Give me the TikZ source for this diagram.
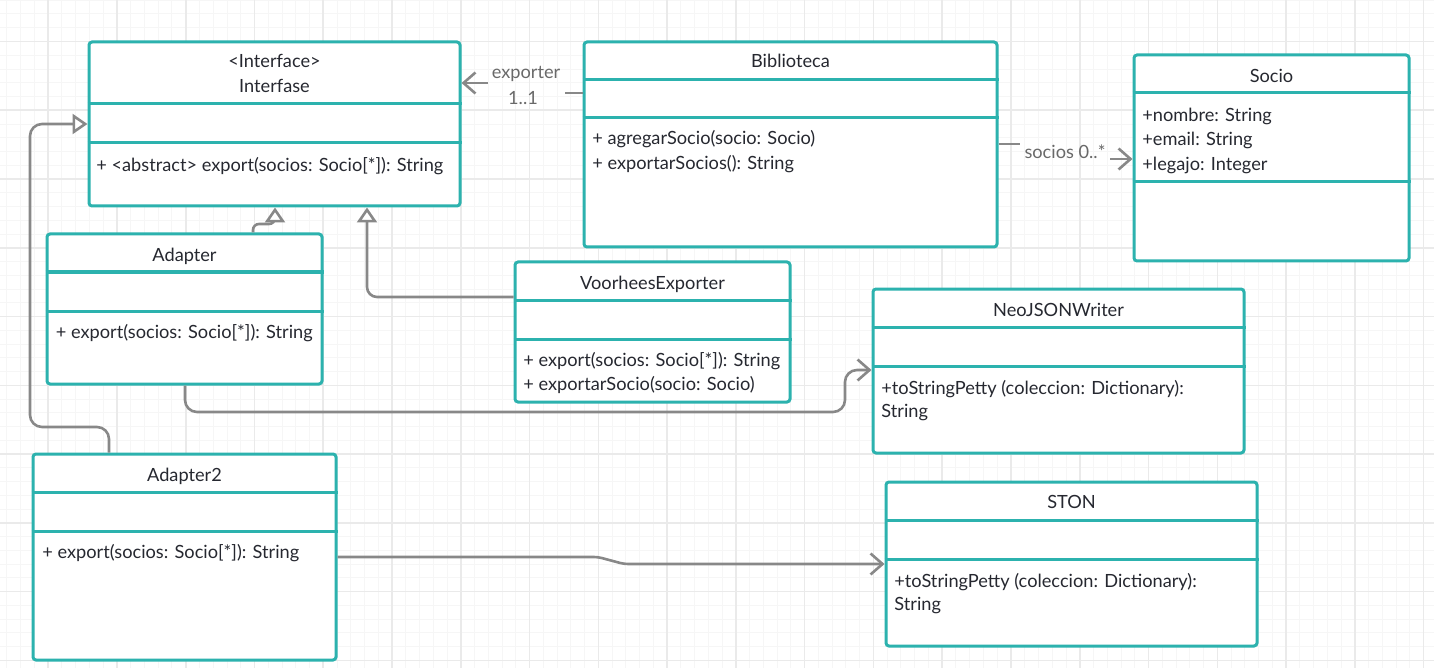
\documentclass[tikz,border=0pt]{standalone}
\usepackage{fontspec}
\setmainfont{Lato}
\usetikzlibrary{arrows.meta}
\definecolor{teal}{RGB}{44,178,174}
\definecolor{txt}{RGB}{38,40,48}
\definecolor{conncol}{RGB}{136,136,136}
\definecolor{lblcol}{RGB}{105,105,105}
\definecolor{gridminor}{RGB}{246,246,246}
\definecolor{gridmajor}{RGB}{234,234,234}
\begin{document}
\begin{tikzpicture}[x=0.5pt,y=-0.5pt,
  umlbox/.style={draw=teal,line width=1.5pt,rounded corners=1.5pt,fill=white,inner sep=0pt},
  divider/.style={draw=teal,line width=1.5pt},
  txtnode/.style={inner sep=0pt,text=txt,font=\fontsize{9.1}{11}\selectfont},
  title/.style={txtnode,anchor=base},
  member/.style={txtnode,anchor=base west},
  lbl/.style={inner sep=0pt,text=lblcol,font=\fontsize{9.1}{11}\selectfont,anchor=base},
  conn/.style={draw=conncol,line width=1.3pt},
  openarrow/.style={-{Straight Barb[length=6pt,width=10.5pt,line width=1.3pt]}},
  gen/.style={-{Triangle[open,length=7.5pt,width=10pt,line width=1.3pt,fill=white]}},
  gminor/.style={draw=gridminor,line width=0.5pt},
  gmajor/.style={draw=gridmajor,line width=0.8pt}]
\useasboundingbox (0,0) rectangle (1434,668);
\fill[white] (0,0) rectangle (1434,668);
% grid
\foreach \k in {0,...,104} \draw[gminor] ({6.94+13.754*\k},0) -- ({6.94+13.754*\k},668);
\foreach \k in {0,...,48} \draw[gminor] (0,{0.24+13.754*\k}) -- (1434,{0.24+13.754*\k});
\foreach \k in {0,...,20} \draw[gmajor] ({48.2+68.77*\k},0) -- ({48.2+68.77*\k},668);
\foreach \k in {0,...,9} \draw[gmajor] (0,{41.5+68.77*\k}) -- (1434,{41.5+68.77*\k});

% boxes
\node[umlbox,minimum width=185.5pt,minimum height=82pt] (interfase) at (274.5,124) {};
\node[umlbox,minimum width=206.5pt,minimum height=102.5pt] (biblioteca) at (790.5,144.5) {};
\node[umlbox,minimum width=137.5pt,minimum height=103pt] (socio) at (1271.5,158) {};
\node[umlbox,minimum width=137.5pt,minimum height=75pt] (adapter) at (184.5,309) {};
\node[umlbox,minimum width=137.5pt,minimum height=70pt] (voorhees) at (652.5,332) {};
\node[umlbox,minimum width=185.5pt,minimum height=82pt] (neojson) at (1058.5,371) {};
\node[umlbox,minimum width=185.5pt,minimum height=82pt] (ston) at (1071.5,564) {};
\node[umlbox,minimum width=151.5pt,minimum height=103pt] (adapter2) at (184.5,557) {};

% dividers
\foreach \n/\a/\b in {interfase/104/143,biblioteca/80/118,socio/93/182,adapter/272/311,voorhees/300/339,neojson/327/366,ston/520/559,adapter2/492/531}{
  \draw[divider] (\n.west |- 0,\a) -- (\n.east |- 0,\a);
  \draw[divider] (\n.west |- 0,\b) -- (\n.east |- 0,\b);
}

% texts
\node[title] (t-int1) at (274.5,68) {<Interface>};
\node[title] (t-int2) at (274.5,93) {Interfase};
\node[member] (m-int) at (96,172) {+ <abstract> export(socios: Socio[*]): String};

\node[title] (t-bib) at (790.5,68) {Biblioteca};
\node[member] (m-bib1) at (592,145) {+ agregarSocio(socio: Socio)};
\node[member] (m-bib2) at (592,170) {+ exportarSocios(): String};

\node[title] (t-soc) at (1271.5,82.5) {Socio};
\node[member] (a-soc1) at (1142,121.5) {+nombre: String};
\node[member] (a-soc2) at (1142,146) {+email: String};
\node[member] (a-soc3) at (1142,170.5) {+legajo: Integer};

\node[title] (t-ad) at (184.5,261.5) {Adapter};
\node[member] (m-ad) at (55.5,338.5) {+ export(socios: Socio[*]): String};

\node[title] (t-voo) at (652.5,289) {VoorheesExporter};
\node[member] (m-voo1) at (523,366.5) {+ export(socios: Socio[*]): String};
\node[member] (m-voo2) at (523,390.5) {+ exportarSocio(socio: Socio)};

\node[title] (t-neo) at (1058.5,316) {NeoJSONWriter};
\node[member] (m-neo1) at (881,394) {+toStringPetty (coleccion: Dictionary):};
\node[member] (m-neo2) at (881,417.5) {String};

\node[title] (t-ston) at (1071.5,508.5) {STON};
\node[member] (m-ston1) at (894,587) {+toStringPetty (coleccion: Dictionary):};
\node[member] (m-ston2) at (894,610.5) {String};

\node[title] (t-ad2) at (184.5,481.5) {Adapter2};
\node[member] (m-ad2) at (42,558.5) {+ export(socios: Socio[*]): String};

% connector labels
\node[lbl] (l-exp) at (526,78.5) {exporter};
\node[lbl] (l-mult) at (523,104.5) {1..1};
\node[lbl] (l-soc) at (1065,158.5) {socios 0..*};

% connectors
\coordinate (expA) at (565,93);
\coordinate (expB) at (488,83);
\draw[conn] (biblioteca.west |- 0,93) -- (expA);
\draw[conn,openarrow] (expB) -- (interfase.east |- 0,83);

\coordinate (socA) at (1020,144);
\coordinate (socB) at (1110,159);
\draw[conn] (biblioteca.east |- 0,144) -- (socA);
\draw[conn,openarrow] (socB) -- (socio.west |- 0,159);

\draw[conn,gen,rounded corners=3pt] (253,0 |- adapter.north) -- (253,224) -- (275,224) -- (interfase.south -| 275,0);
\draw[conn,gen,rounded corners=5pt] (voorhees.west |- 0,297) -- (367,297) -- (interfase.south -| 367,0);
\draw[conn,gen,rounded corners=6pt] (109,0 |- adapter2.north) -- (109,427) -- (30,427) -- (30,124) -- (interfase.west |- 0,124);
\draw[conn,openarrow,rounded corners=6pt] (185,0 |- adapter.south) -- (185,412) -- (845,412) -- (845,370) -- (neojson.west |- 0,370);
\draw[conn,openarrow,rounded corners=2pt] (adapter2.east |- 0,557) -- (598,557) -- (624,564) -- (ston.west |- 0,564);
\end{tikzpicture}
\end{document}
